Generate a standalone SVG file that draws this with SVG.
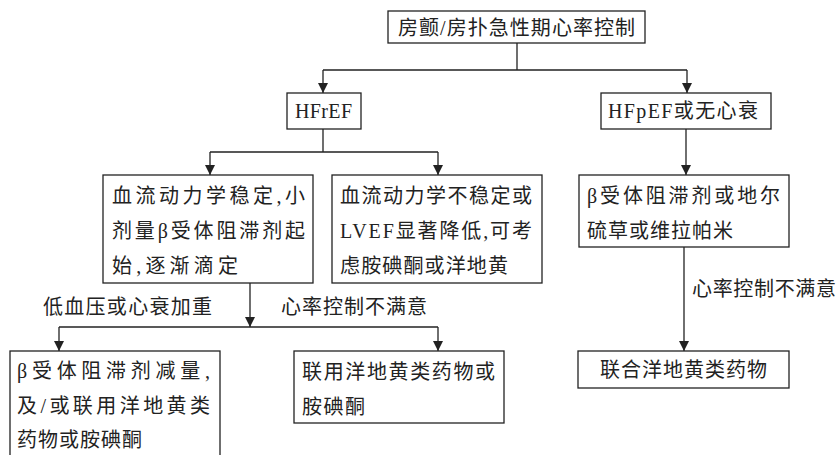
<svg xmlns="http://www.w3.org/2000/svg" width="838" height="455" viewBox="0 0 838 455">
<style>
.box{fill:#fff;stroke:#222;stroke-width:1.3}
.t{font-family:"Liberation Serif","Noto Sans CJK SC",serif;font-size:20px;fill:#222}
.c{stroke:#222;stroke-width:1.3;fill:none}
</style>
<defs>
<marker id="arr" markerWidth="10" markerHeight="10" refX="10" refY="5" orient="auto" markerUnits="userSpaceOnUse">
<path d="M0,0 L10,5 L0,10 z" fill="#222"/>
</marker>
</defs>
<rect width="838" height="455" fill="#fff"/>
<g id="connectors">
<path class="c" d="M517,43 V70 M323,70 H687"/>
<path class="c" d="M323,70 V93" marker-end="url(#arr)"/>
<path class="c" d="M687,70 V93" marker-end="url(#arr)"/>
<path class="c" d="M323,129 V152 M210,152 H438"/>
<path class="c" d="M210,152 V175" marker-end="url(#arr)"/>
<path class="c" d="M438,152 V175" marker-end="url(#arr)"/>
<path class="c" d="M686,129 V175" marker-end="url(#arr)"/>
<path class="c" d="M684,247 V351" marker-end="url(#arr)"/>
<path class="c" d="M250,283 V327" marker-end="url(#arr)"/>
<path class="c" d="M59,327 H438"/>
<path class="c" d="M59,327 V351" marker-end="url(#arr)"/>
<path class="c" d="M438,327 V351" marker-end="url(#arr)"/>
<text class="t" x="43" y="314" textLength="169" lengthAdjust="spacing">低血压或心衰加重</text>
<text class="t" x="281" y="314" textLength="146" lengthAdjust="spacing">心率控制不满意</text>
<text class="t" x="692" y="296" textLength="144" lengthAdjust="spacing">心率控制不满意</text>
</g>
<g id="n-top">
<rect class="box" x="388" y="11" width="257" height="32"/>
<text class="t" x="398" y="35" textLength="237" lengthAdjust="spacing">房颤/房扑急性期心率控制</text>
</g>
<g id="n-hfref">
<rect class="box" x="287" y="93" width="74" height="36"/>
<text class="t" x="295" y="118" textLength="57" lengthAdjust="spacing">HFrEF</text>
</g>
<g id="n-hfpef">
<rect class="box" x="601" y="93" width="170" height="36"/>
<text class="t" x="608" y="118" textLength="150" lengthAdjust="spacing">HFpEF或无心衰</text>
</g>
<g id="n-stable">
<rect class="box" x="103" y="175" width="210" height="108"/>
<text class="t" x="112" y="203" textLength="193" lengthAdjust="spacing">血流动力学稳定,小</text>
<text class="t" x="112" y="238" textLength="193" lengthAdjust="spacing">剂量β受体阻滞剂起</text>
<text class="t" x="112" y="273" textLength="126" lengthAdjust="spacing">始,逐渐滴定</text>
</g>
<g id="n-unstable">
<rect class="box" x="332" y="175" width="210" height="108"/>
<text class="t" x="340" y="203" textLength="192" lengthAdjust="spacing">血流动力学不稳定或</text>
<text class="t" x="340" y="238" textLength="192" lengthAdjust="spacing">LVEF显著降低,可考</text>
<text class="t" x="340" y="273" textLength="168" lengthAdjust="spacing">虑胺碘酮或洋地黄</text>
</g>
<g id="n-beta">
<rect class="box" x="579" y="175" width="210" height="72"/>
<text class="t" x="587" y="203" textLength="193" lengthAdjust="spacing">β受体阻滞剂或地尔</text>
<text class="t" x="587" y="238" textLength="146" lengthAdjust="spacing">硫草或维拉帕米</text>
</g>
<g id="n-reduce">
<rect class="box" x="10" y="351" width="210" height="120"/>
<text class="t" x="17" y="378" textLength="193" lengthAdjust="spacing">β受体阻滞剂减量,</text>
<text class="t" x="17" y="413" textLength="193" lengthAdjust="spacing">及/或联用洋地黄类</text>
<text class="t" x="17" y="447" textLength="125" lengthAdjust="spacing">药物或胺碘酮</text>
</g>
<g id="n-combine">
<rect class="box" x="294" y="351" width="210" height="72"/>
<text class="t" x="302" y="379" textLength="193" lengthAdjust="spacing">联用洋地黄类药物或</text>
<text class="t" x="302" y="414" textLength="63" lengthAdjust="spacing">胺碘酮</text>
</g>
<g id="n-digoxin">
<rect class="box" x="578" y="351" width="211" height="37"/>
<text class="t" x="600" y="377" textLength="167" lengthAdjust="spacing">联合洋地黄类药物</text>
</g>
</svg>
